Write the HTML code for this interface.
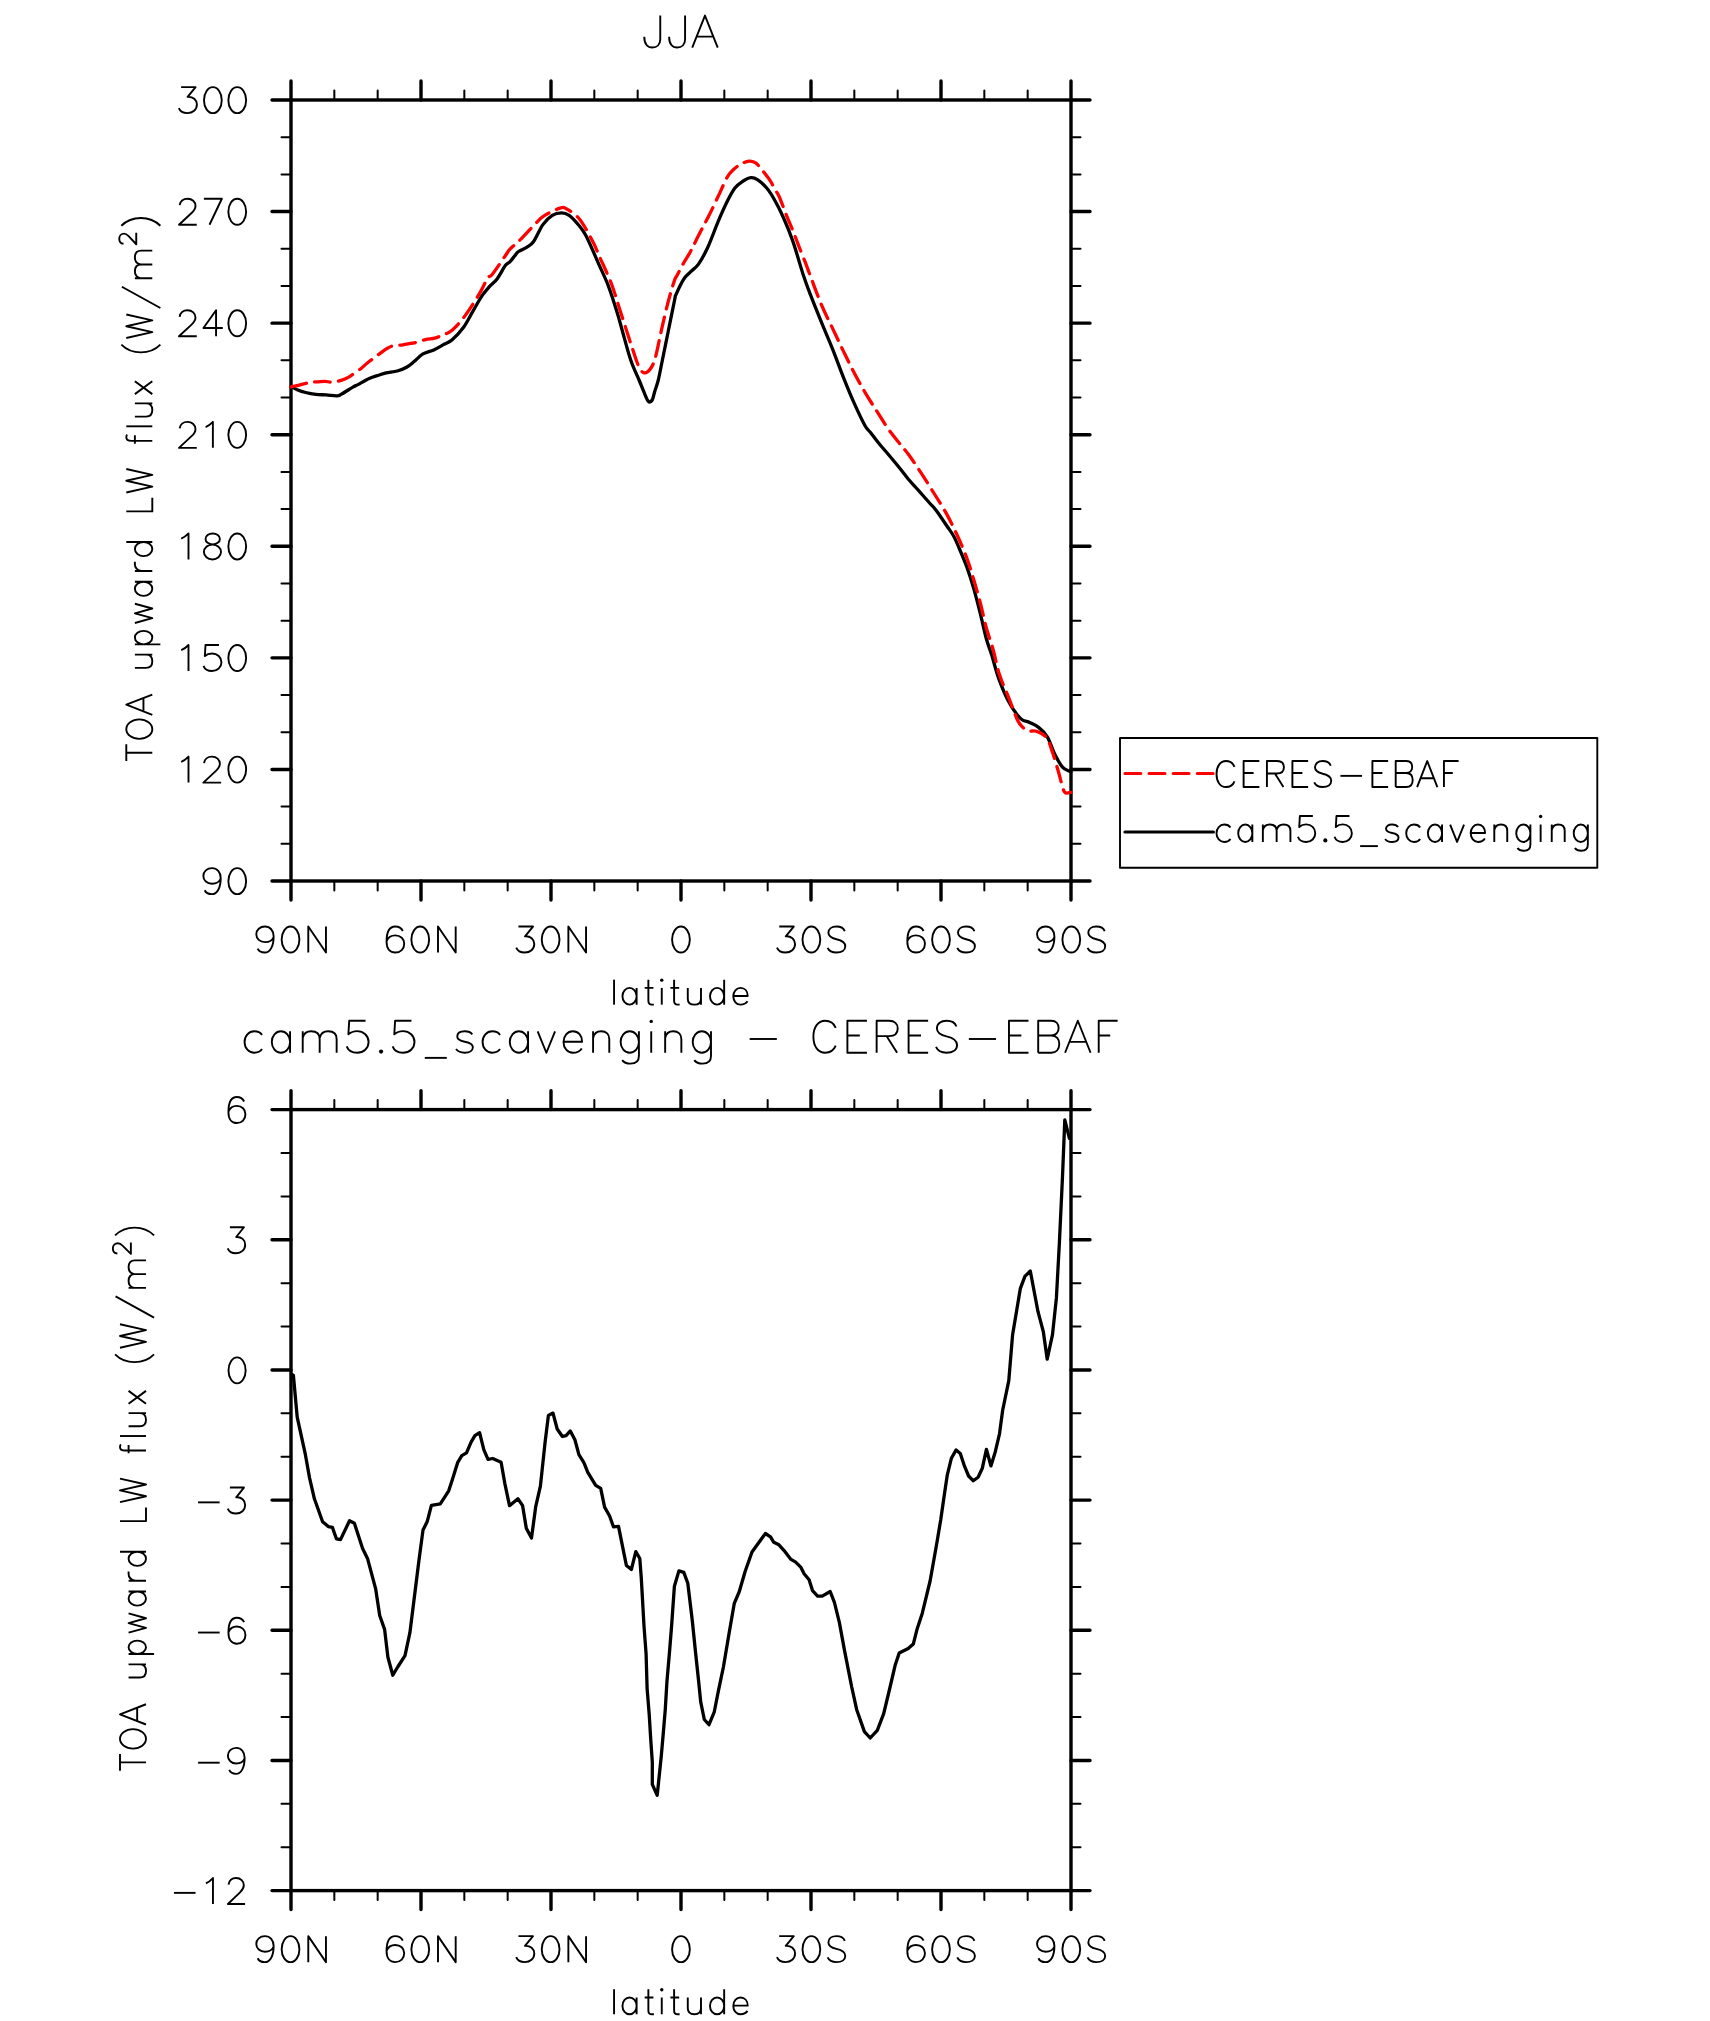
<!DOCTYPE html><html><head><meta charset="utf-8"><style>html,body{margin:0;padding:0;background:#fff;}svg{display:block;}</style></head><body>
<svg xmlns="http://www.w3.org/2000/svg" width="1710" height="2021" viewBox="0 0 1710 2021">
<rect width="1710" height="2021" fill="#fff"/>
<rect x="291.0" y="100" width="780.0" height="781" fill="none" stroke="#000" stroke-width="3.4"/>
<path d="M291,100V81M291,881V900M421,100V81M421,881V900M551,100V81M551,881V900M681,100V81M681,881V900M811,100V81M811,881V900M941,100V81M941,881V900M1071,100V81M1071,881V900M291.0,100H272.0M1071.0,100H1090.0M291.0,211.57H272.0M1071.0,211.57H1090.0M291.0,323.14H272.0M1071.0,323.14H1090.0M291.0,434.71H272.0M1071.0,434.71H1090.0M291.0,546.29H272.0M1071.0,546.29H1090.0M291.0,657.86H272.0M1071.0,657.86H1090.0M291.0,769.43H272.0M1071.0,769.43H1090.0M291.0,881H272.0M1071.0,881H1090.0" stroke="#000" stroke-width="3.4" stroke-linecap="round" fill="none"/>
<path d="M334.33,100V90.5M334.33,881V890.5M377.67,100V90.5M377.67,881V890.5M464.33,100V90.5M464.33,881V890.5M507.67,100V90.5M507.67,881V890.5M594.33,100V90.5M594.33,881V890.5M637.67,100V90.5M637.67,881V890.5M724.33,100V90.5M724.33,881V890.5M767.67,100V90.5M767.67,881V890.5M854.33,100V90.5M854.33,881V890.5M897.67,100V90.5M897.67,881V890.5M984.33,100V90.5M984.33,881V890.5M1027.67,100V90.5M1027.67,881V890.5M291.0,137.19H281.5M1071.0,137.19H1080.5M291.0,174.38H281.5M1071.0,174.38H1080.5M291.0,248.76H281.5M1071.0,248.76H1080.5M291.0,285.95H281.5M1071.0,285.95H1080.5M291.0,360.33H281.5M1071.0,360.33H1080.5M291.0,397.52H281.5M1071.0,397.52H1080.5M291.0,471.9H281.5M1071.0,471.9H1080.5M291.0,509.1H281.5M1071.0,509.1H1080.5M291.0,583.48H281.5M1071.0,583.48H1080.5M291.0,620.67H281.5M1071.0,620.67H1080.5M291.0,695.05H281.5M1071.0,695.05H1080.5M291.0,732.24H281.5M1071.0,732.24H1080.5M291.0,806.62H281.5M1071.0,806.62H1080.5M291.0,843.81H281.5M1071.0,843.81H1080.5" stroke="#000" stroke-width="2" stroke-linecap="round" fill="none"/>
<rect x="291.0" y="1109.6" width="780.0" height="781" fill="none" stroke="#000" stroke-width="3.4"/>
<path d="M291,1109.6V1090.6M291,1890.6V1909.6M421,1109.6V1090.6M421,1890.6V1909.6M551,1109.6V1090.6M551,1890.6V1909.6M681,1109.6V1090.6M681,1890.6V1909.6M811,1109.6V1090.6M811,1890.6V1909.6M941,1109.6V1090.6M941,1890.6V1909.6M1071,1109.6V1090.6M1071,1890.6V1909.6M291.0,1109.6H272.0M1071.0,1109.6H1090.0M291.0,1239.77H272.0M1071.0,1239.77H1090.0M291.0,1369.93H272.0M1071.0,1369.93H1090.0M291.0,1500.1H272.0M1071.0,1500.1H1090.0M291.0,1630.27H272.0M1071.0,1630.27H1090.0M291.0,1760.43H272.0M1071.0,1760.43H1090.0M291.0,1890.6H272.0M1071.0,1890.6H1090.0" stroke="#000" stroke-width="3.4" stroke-linecap="round" fill="none"/>
<path d="M334.33,1109.6V1100.1M334.33,1890.6V1900.1M377.67,1109.6V1100.1M377.67,1890.6V1900.1M464.33,1109.6V1100.1M464.33,1890.6V1900.1M507.67,1109.6V1100.1M507.67,1890.6V1900.1M594.33,1109.6V1100.1M594.33,1890.6V1900.1M637.67,1109.6V1100.1M637.67,1890.6V1900.1M724.33,1109.6V1100.1M724.33,1890.6V1900.1M767.67,1109.6V1100.1M767.67,1890.6V1900.1M854.33,1109.6V1100.1M854.33,1890.6V1900.1M897.67,1109.6V1100.1M897.67,1890.6V1900.1M984.33,1109.6V1100.1M984.33,1890.6V1900.1M1027.67,1109.6V1100.1M1027.67,1890.6V1900.1M291.0,1152.99H281.5M1071.0,1152.99H1080.5M291.0,1196.38H281.5M1071.0,1196.38H1080.5M291.0,1283.16H281.5M1071.0,1283.16H1080.5M291.0,1326.54H281.5M1071.0,1326.54H1080.5M291.0,1413.32H281.5M1071.0,1413.32H1080.5M291.0,1456.71H281.5M1071.0,1456.71H1080.5M291.0,1543.49H281.5M1071.0,1543.49H1080.5M291.0,1586.88H281.5M1071.0,1586.88H1080.5M291.0,1673.66H281.5M1071.0,1673.66H1080.5M291.0,1717.04H281.5M1071.0,1717.04H1080.5M291.0,1803.82H281.5M1071.0,1803.82H1080.5M291.0,1847.21H281.5M1071.0,1847.21H1080.5" stroke="#000" stroke-width="2" stroke-linecap="round" fill="none"/>
<path d="M291,386.5 C291.17,386.57 290.97,386.37 292,386.9 C293.03,387.43 294.93,388.77 297.2,389.7 C299.47,390.63 302.48,391.72 305.6,392.5 C308.72,393.28 312.47,394 315.9,394.4 C319.33,394.8 322.77,394.67 326.2,394.9 C329.63,395.13 334.02,395.88 336.5,395.8 C338.98,395.72 338.3,395.88 341.1,394.4 C343.9,392.92 350.48,388.53 353.3,386.9 C356.12,385.27 355.35,386 358,384.6 C360.65,383.2 365.77,380.07 369.2,378.5 C372.63,376.93 375.78,376.13 378.6,375.2 C381.42,374.27 382.98,373.6 386.1,372.9 C389.22,372.2 393.88,371.93 397.3,371 C400.72,370.07 403.8,368.87 406.6,367.3 C409.4,365.73 411.45,363.78 414.1,361.6 C416.75,359.42 419.22,356.15 422.5,354.2 C425.78,352.25 430.2,351.55 433.8,349.9 C437.4,348.25 441.03,346 444.1,344.3 C447.17,342.6 448.98,342.5 452.2,339.7 C455.42,336.9 459.98,332.18 463.4,327.5 C466.82,322.82 469.58,316.9 472.7,311.6 C475.82,306.3 479.28,299.9 482.1,295.7 C484.92,291.5 487.1,289.2 489.6,286.4 C492.1,283.6 494.45,282.42 497.1,278.9 C499.75,275.38 503.37,268.15 505.5,265.3 C507.63,262.45 508.35,263.38 509.9,261.8 C511.45,260.22 513.37,257.52 514.8,255.8 C516.23,254.08 516.47,252.95 518.5,251.5 C520.53,250.05 524.48,248.77 527,247.1 C529.52,245.43 530.95,245.25 533.6,241.5 C536.25,237.75 539.78,228.97 542.9,224.6 C546.02,220.23 549.18,217.25 552.3,215.3 C555.42,213.35 558.8,212.9 561.6,212.9 C564.4,212.9 566.45,213.5 569.1,215.3 C571.75,217.1 574.68,220.28 577.5,223.7 C580.32,227.12 582.4,228.93 586,235.8 C589.6,242.67 595.32,256.4 599.1,264.9 C602.88,273.4 605.67,278.78 608.7,286.8 C611.73,294.82 615.07,305.8 617.3,313 C619.53,320.2 619.87,322.17 622.1,330 C624.33,337.83 627.88,351.67 630.7,360 C633.53,368.33 636.9,374.8 639.05,380 C641.2,385.2 642.06,387.65 643.6,391.2 C645.14,394.75 646.87,399.83 648.3,401.3 C649.73,402.77 651.12,401.68 652.2,400 C653.28,398.32 653.78,394.53 654.8,391.2 C655.82,387.87 657.03,385.2 658.3,380 C659.57,374.8 660.7,368.33 662.4,360 C664.1,351.67 666.47,340 668.5,330 C670.53,320 673.33,305.95 674.6,300 C675.87,294.05 674.6,297.75 676.1,294.3 C677.6,290.85 681.28,282.97 683.6,279.3 C685.92,275.63 687.52,274.83 690,272.3 C692.48,269.77 695.53,268.27 698.5,264.1 C701.47,259.93 704.53,254.37 707.8,247.3 C711.07,240.23 714.83,229.4 718.1,221.7 C721.37,214 724.6,206.72 727.4,201.1 C730.2,195.48 732.4,191.27 734.9,188 C737.4,184.73 739.75,183.22 742.4,181.5 C745.05,179.78 748.3,178.02 750.8,177.7 C753.3,177.38 754.75,177.88 757.4,179.6 C760.05,181.32 763.9,184.72 766.7,188 C769.5,191.28 771.38,194.3 774.2,199.3 C777.02,204.3 780.48,210.98 783.6,218 C786.72,225.02 789.63,231.95 792.9,241.4 C796.17,250.85 800.2,265.62 803.2,274.7 C806.2,283.78 807.8,287.83 810.9,295.9 C814,303.97 818.17,314.2 821.8,323.1 C825.43,332 829.08,340.22 832.7,349.3 C836.32,358.38 839.88,368.53 843.5,377.6 C847.12,386.67 850.83,395.72 854.4,403.7 C857.97,411.68 862.22,420.7 864.9,425.5 C867.58,430.3 868.28,429.67 870.5,432.5 C872.72,435.33 875.15,438.75 878.2,442.5 C881.25,446.25 885.3,450.83 888.8,455 C892.3,459.17 895.82,463.33 899.2,467.5 C902.58,471.67 906.25,476.58 909.1,480 C911.95,483.42 913.92,485.33 916.3,488 C918.68,490.67 921.12,493.42 923.4,496 C925.68,498.58 927.8,501 930,503.5 C932.2,506 933.78,507.25 936.6,511 C939.42,514.75 944.07,521.83 946.9,526 C949.73,530.17 951.5,532.17 953.6,536 C955.7,539.83 957.3,543.85 959.5,549 C961.7,554.15 964.4,560.22 966.8,566.9 C969.2,573.58 971.67,581.38 973.9,589.1 C976.13,596.82 978.12,604.88 980.2,613.2 C982.28,621.52 984.47,632 986.4,639 C988.33,646 989.78,648.72 991.8,655.2 C993.82,661.68 995.7,670.18 998.5,677.9 C1001.3,685.62 1004.95,694.77 1008.6,701.5 C1012.25,708.23 1016.88,714.8 1020.4,718.3 C1023.92,721.8 1026.62,720.95 1029.7,722.5 C1032.78,724.05 1035.97,725.22 1038.9,727.6 C1041.83,729.98 1044.63,732.32 1047.3,736.8 C1049.97,741.28 1052.37,749.45 1054.9,754.5 C1057.43,759.55 1060.05,764.3 1062.5,767.1 C1064.95,769.9 1068.18,770.57 1069.6,771.3 C1071.02,772.03 1070.77,771.47 1071,771.5" fill="none" stroke="#000" stroke-width="3.3" stroke-linecap="round" stroke-linejoin="round"/>
<path d="M291,386.8 C291.4,386.73 291.75,386.77 293.4,386.4 C295.05,386.03 297.93,385.3 300.9,384.6 C303.87,383.9 308.4,382.67 311.2,382.2 C314,381.73 315.37,381.95 317.7,381.8 C320.03,381.65 322.85,381.23 325.2,381.3 C327.55,381.37 329.15,382.35 331.8,382.2 C334.45,382.05 338.3,381.25 341.1,380.4 C343.9,379.55 345.32,379.05 348.6,377.1 C351.88,375.15 357.68,371.05 360.8,368.7 C363.92,366.35 364.03,365.58 367.3,363 C370.57,360.42 377.12,355.62 380.4,353.2 C383.68,350.78 384.82,349.75 387,348.5 C389.18,347.25 390.85,346.32 393.5,345.7 C396.15,345.08 400.08,345.18 402.9,344.8 C405.72,344.42 408.53,343.72 410.4,343.4 C412.27,343.08 411.6,343.53 414.1,342.9 C416.6,342.27 421.97,340.38 425.4,339.6 C428.83,338.82 431.93,338.93 434.7,338.2 C437.47,337.47 439.55,336.2 442,335.2 C444.45,334.2 447.08,333.63 449.4,332.2 C451.72,330.77 453.25,329.4 455.9,326.6 C458.55,323.8 461.4,320.85 465.3,315.4 C469.2,309.95 475.57,300.13 479.3,293.9 C483.03,287.67 485.52,281.28 487.7,278 C489.88,274.72 489.43,277.95 492.4,274.2 C495.37,270.45 502.53,259.72 505.5,255.5 C508.47,251.28 507.55,251.72 510.2,248.9 C512.85,246.08 516.73,243.27 521.4,238.6 C526.07,233.93 534.3,224.78 538.2,220.9 C542.1,217.02 541.2,217.42 544.8,215.3 C548.4,213.18 556.22,209.3 559.8,208.2 C563.38,207.1 563.03,206.9 566.3,208.7 C569.57,210.5 575.03,213.62 579.4,219 C583.77,224.38 589.18,234.8 592.5,241 C595.82,247.2 596.13,249.03 599.3,256.2 C602.47,263.37 607.9,274.53 611.5,284 C615.1,293.47 617.47,302.4 620.9,313 C624.33,323.6 629.13,338.72 632.1,347.6 C635.07,356.48 636.67,362.08 638.7,366.3 C640.73,370.52 642.28,372.58 644.3,372.9 C646.32,373.22 648.93,370.85 650.8,368.2 C652.67,365.55 653.78,363.08 655.5,357 C657.22,350.92 659.07,340.6 661.1,331.7 C663.13,322.8 665.52,312.02 667.7,303.6 C669.88,295.18 672.65,285.88 674.2,281.2 C675.75,276.52 675.75,277.92 677,275.5 C678.25,273.08 680.45,269.03 681.7,266.7 C682.95,264.37 683.3,263.55 684.5,261.5 C685.7,259.45 687.82,256.22 688.9,254.4 C689.98,252.58 689.1,254.33 691,250.6 C692.9,246.87 697.35,237.75 700.3,232 C703.25,226.25 705.73,222.02 708.7,216.1 C711.67,210.18 714.98,203.05 718.1,196.5 C721.22,189.95 724.78,181.33 727.4,176.8 C730.02,172.27 731.62,171.4 733.8,169.3 C735.98,167.2 738.18,165.53 740.5,164.2 C742.82,162.87 745.78,161.75 747.7,161.3 C749.62,160.85 750.63,161.22 752,161.5 C753.37,161.78 754.4,161.83 755.9,163 C757.4,164.17 759.28,166.47 761,168.5 C762.72,170.53 764.58,173.03 766.2,175.2 C767.82,177.37 769.32,179.28 770.7,181.5 C772.08,183.72 773.13,186.1 774.5,188.5 C775.87,190.9 777.67,193.42 778.9,195.9 C780.13,198.38 780.42,199.6 781.9,203.4 C783.38,207.2 786.32,215 787.8,218.7 C789.28,222.4 789.32,221.97 790.8,225.6 C792.28,229.23 795.22,236.7 796.7,240.5 C798.18,244.3 798.22,244.62 799.7,248.4 C801.18,252.18 803.73,258.37 805.6,263.2 C807.47,268.03 808.2,270.32 810.9,277.4 C813.6,284.48 818.17,297.17 821.8,305.7 C825.43,314.23 829.08,320.98 832.7,328.6 C836.32,336.22 839.88,343.97 843.5,351.4 C847.12,358.83 850.77,366.3 854.4,373.2 C858.03,380.1 861.67,386.63 865.3,392.8 C868.93,398.97 872.57,404.45 876.2,410.2 C879.83,415.95 883.47,422.07 887.1,427.3 C890.73,432.53 894.37,436.98 898,441.6 C901.63,446.22 905,449.7 908.9,455 C912.8,460.3 917.25,467.07 921.4,473.4 C925.55,479.73 929.65,486.33 933.8,493 C937.95,499.67 942.43,506.43 946.3,513.4 C950.17,520.37 953.58,527.37 957,534.8 C960.42,542.23 963.98,550.43 966.8,558 C969.62,565.57 971.67,572.78 973.9,580.2 C976.13,587.62 978.27,595.07 980.2,602.5 C982.13,609.93 984.03,619.13 985.5,624.8 C986.97,630.47 987.67,632.13 989,636.5 C990.33,640.87 991.77,644.65 993.5,651 C995.23,657.35 996.88,666.88 999.4,674.6 C1001.92,682.32 1005.65,689.87 1008.6,697.3 C1011.55,704.73 1014.85,714.3 1017.1,719.2 C1019.35,724.1 1020.15,724.75 1022.1,726.7 C1024.05,728.65 1026.42,730.13 1028.8,730.9 C1031.18,731.67 1033.45,730.18 1036.4,731.3 C1039.35,732.42 1043.83,734.15 1046.5,737.6 C1049.17,741.05 1050.43,746.38 1052.4,752 C1054.37,757.62 1056.33,764.72 1058.3,771.3 C1060.27,777.88 1062.32,788 1064.2,791.5 C1066.08,795 1068.47,792.15 1069.6,792.3 C1070.73,792.45 1070.77,792.38 1071,792.4" fill="none" stroke="#ff0000" stroke-width="3.3" stroke-linecap="round" stroke-linejoin="round" stroke-dasharray="15.8 8.3"/>
<path d="M291.4,1374 L293.4,1375.4 L297.2,1417.2 L305.4,1454.7 L309.5,1477.6 L314.4,1498.8 L322.6,1521.7 L328.3,1526.6 L332.4,1527.4 L336.4,1538.8 L340.5,1539.6 L349.5,1520.8 L354.4,1523.3 L362.6,1548.6 L367.5,1558.4 L375.6,1588.6 L379.7,1615.5 L384.6,1629.4 L387.9,1657.2 L392.8,1675.2 L397.7,1667 L405,1655.6 L409.9,1632.7 L418.9,1560.8 L423,1530.1 L427.2,1521.6 L431.4,1505.3 L440.3,1503.9 L448.7,1490.8 L452.4,1479.5 L457.6,1462.7 L461.8,1455.7 L466.5,1452.9 L471.1,1442.1 L474.9,1435.6 L479.6,1432.7 L483.8,1449.6 L488,1459.4 L492.7,1458.5 L501.1,1462.2 L504.8,1483.3 L509.5,1505.7 L517.9,1498.7 L522.6,1505.7 L526.3,1528.2 L531.5,1538 L535.7,1506.7 L540.4,1486.1 L545.1,1442.1 L548.4,1415.4 L553,1413.1 L557.2,1429 L562.4,1436.5 L566.1,1435.6 L570.3,1430.9 L574.9,1439.8 L578.9,1454.6 L583.9,1462.6 L587.8,1472.4 L595.7,1485.3 L600.7,1488.3 L604.6,1507.1 L609.6,1516 L613.5,1526.9 L618.5,1526.4 L624.4,1555.6 L626.4,1565.5 L631.4,1569.4 L635.8,1551.6 L639.8,1558.5 L641.3,1578.3 L644,1626 L646.1,1654 L647.1,1688.3 L649.2,1714.3 L650.8,1740.3 L652.3,1762.1 L652.3,1784.4 L657.2,1795.3 L661.2,1756.9 L663.3,1733 L665.3,1709.1 L666.9,1682.1 L669.5,1652 L671.6,1626 L674.4,1586.2 L678.9,1570.9 L683.8,1572.4 L687.8,1583.3 L692.3,1620.8 L695.5,1652 L698.6,1681 L700.7,1701.8 L704.3,1719.5 L709,1724.7 L714.2,1712.2 L718.3,1691.4 L723.5,1666.5 L729.3,1631.9 L734.3,1603.3 L739.3,1591.5 L745.2,1571.3 L752,1552 L765.4,1533.5 L770.5,1536.8 L773.8,1542.3 L778.9,1544.8 L783.9,1550.3 L790.6,1559.1 L795.7,1562.1 L800.7,1567.1 L804.1,1573.8 L809.1,1579.7 L812.5,1590.6 L817.6,1596.1 L822.2,1596.1 L830.2,1591.5 L834.4,1602.4 L839.4,1622.6 L844.5,1650.4 L851.6,1686.5 L856.7,1709.7 L864.4,1731.6 L870.2,1738 L877.3,1730.3 L883.7,1713.6 L890.2,1686.5 L895.3,1664.7 L899.2,1653.1 L908.2,1648.6 L913.3,1644.1 L917.2,1628.7 L922.3,1613.2 L930.1,1581 L936.5,1545 L940.7,1520 L944.3,1495 L947.2,1475.4 L951.4,1458.2 L956.1,1449.9 L960.3,1453.4 L964.4,1465.9 L968.6,1476 L973.3,1480.8 L978.1,1477.2 L982.3,1468.3 L986.4,1449.3 L990.9,1465.9 L995.3,1451.7 L999.5,1433.8 L1002.7,1410 L1008.8,1380.7 L1012.6,1334.7 L1020.3,1288.7 L1024.9,1276.4 L1030.3,1271 L1038,1311.7 L1043.3,1331.6 L1047.2,1359.2 L1052.5,1334.7 L1056.4,1297.9 L1059.4,1242.7 L1062.5,1176.7 L1064.8,1119.9 L1069.4,1138.3" fill="none" stroke="#000" stroke-width="3.3" stroke-linecap="round" stroke-linejoin="round"/>
<g transform="translate(249.3,112.95)" fill="none" stroke="#000" stroke-width="1.9" stroke-linecap="butt" stroke-linejoin="round"><path transform="matrix(0.28,0,0,0.26,-73.13,-25.8)" d="M17.5,0 L69.4,0 L40.8,37.5 C60,36 74,49 74,67 C74,87 59,100 40,100 C26,100 14,93 9.4,81" vector-effect="non-scaling-stroke"/><path transform="matrix(0.28,0,0,0.26,-48.75,-25.8)" d="M44,0 A31.75,50 0 1,1 44,100 A31.75,50 0 1,1 44,0" vector-effect="non-scaling-stroke"/><path transform="matrix(0.28,0,0,0.26,-24.38,-25.8)" d="M44,0 A31.75,50 0 1,1 44,100 A31.75,50 0 1,1 44,0" vector-effect="non-scaling-stroke"/></g>
<g transform="translate(249.3,224.52)" fill="none" stroke="#000" stroke-width="1.9" stroke-linecap="butt" stroke-linejoin="round"><path transform="matrix(0.28,0,0,0.26,-73.13,-25.8)" d="M12.5,25 C14,10 25,0 40.5,0 C57,0 69,12 69,28 C69,40 63,47 55,55 L10,100 L73.5,100" vector-effect="non-scaling-stroke"/><path transform="matrix(0.28,0,0,0.26,-48.75,-25.8)" d="M12,0 L76,0 L32,100" vector-effect="non-scaling-stroke"/><path transform="matrix(0.28,0,0,0.26,-24.38,-25.8)" d="M44,0 A31.75,50 0 1,1 44,100 A31.75,50 0 1,1 44,0" vector-effect="non-scaling-stroke"/></g>
<g transform="translate(249.3,336.09)" fill="none" stroke="#000" stroke-width="1.9" stroke-linecap="butt" stroke-linejoin="round"><path transform="matrix(0.28,0,0,0.26,-73.13,-25.8)" d="M12.5,25 C14,10 25,0 40.5,0 C57,0 69,12 69,28 C69,40 63,47 55,55 L10,100 L73.5,100" vector-effect="non-scaling-stroke"/><path transform="matrix(0.28,0,0,0.26,-48.75,-25.8)" d="M55.4,100 L55.4,0 L10.4,68 L79.5,68" vector-effect="non-scaling-stroke"/><path transform="matrix(0.28,0,0,0.26,-24.38,-25.8)" d="M44,0 A31.75,50 0 1,1 44,100 A31.75,50 0 1,1 44,0" vector-effect="non-scaling-stroke"/></g>
<g transform="translate(249.3,447.66)" fill="none" stroke="#000" stroke-width="1.9" stroke-linecap="butt" stroke-linejoin="round"><path transform="matrix(0.28,0,0,0.26,-73.13,-25.8)" d="M12.5,25 C14,10 25,0 40.5,0 C57,0 69,12 69,28 C69,40 63,47 55,55 L10,100 L73.5,100" vector-effect="non-scaling-stroke"/><path transform="matrix(0.28,0,0,0.26,-48.75,-25.8)" d="M18,20 C26,17 36,9 44,0 L44,100" vector-effect="non-scaling-stroke"/><path transform="matrix(0.28,0,0,0.26,-24.38,-25.8)" d="M44,0 A31.75,50 0 1,1 44,100 A31.75,50 0 1,1 44,0" vector-effect="non-scaling-stroke"/></g>
<g transform="translate(249.3,559.24)" fill="none" stroke="#000" stroke-width="1.9" stroke-linecap="butt" stroke-linejoin="round"><path transform="matrix(0.28,0,0,0.26,-73.13,-25.8)" d="M18,20 C26,17 36,9 44,0 L44,100" vector-effect="non-scaling-stroke"/><path transform="matrix(0.28,0,0,0.26,-48.75,-25.8)" d="M43.4,0 A25.7,21 0 1,1 43.4,42 A25.7,21 0 1,1 43.4,0 M42.5,43.0 A30.5,28.5 0 1,1 42.5,100.0 A30.5,28.5 0 1,1 42.5,43.0" vector-effect="non-scaling-stroke"/><path transform="matrix(0.28,0,0,0.26,-24.38,-25.8)" d="M44,0 A31.75,50 0 1,1 44,100 A31.75,50 0 1,1 44,0" vector-effect="non-scaling-stroke"/></g>
<g transform="translate(249.3,670.81)" fill="none" stroke="#000" stroke-width="1.9" stroke-linecap="butt" stroke-linejoin="round"><path transform="matrix(0.28,0,0,0.26,-73.13,-25.8)" d="M18,20 C26,17 36,9 44,0 L44,100" vector-effect="non-scaling-stroke"/><path transform="matrix(0.28,0,0,0.26,-48.75,-25.8)" d="M65.8,0 L17.7,0 L15.3,42.7 C22,36 30,32.5 41,32.5 C60,32.5 74.7,47 74.7,66.5 C74.7,86 60,100 41,100 C26,100 15,93 10.4,80" vector-effect="non-scaling-stroke"/><path transform="matrix(0.28,0,0,0.26,-24.38,-25.8)" d="M44,0 A31.75,50 0 1,1 44,100 A31.75,50 0 1,1 44,0" vector-effect="non-scaling-stroke"/></g>
<g transform="translate(249.3,782.38)" fill="none" stroke="#000" stroke-width="1.9" stroke-linecap="butt" stroke-linejoin="round"><path transform="matrix(0.28,0,0,0.26,-73.13,-25.8)" d="M18,20 C26,17 36,9 44,0 L44,100" vector-effect="non-scaling-stroke"/><path transform="matrix(0.28,0,0,0.26,-48.75,-25.8)" d="M12.5,25 C14,10 25,0 40.5,0 C57,0 69,12 69,28 C69,40 63,47 55,55 L10,100 L73.5,100" vector-effect="non-scaling-stroke"/><path transform="matrix(0.28,0,0,0.26,-24.38,-25.8)" d="M44,0 A31.75,50 0 1,1 44,100 A31.75,50 0 1,1 44,0" vector-effect="non-scaling-stroke"/></g>
<g transform="translate(249.3,893.95)" fill="none" stroke="#000" stroke-width="1.9" stroke-linecap="butt" stroke-linejoin="round"><path transform="matrix(0.28,0,0,0.26,-48.75,-25.8)" d="M72,40 C68,52 56,60 41,60 C23,60 10,47 10,30 C10,13 23,0 41,0 C59,0 72,15 72,38 C72,75 60,100 40,100 C28,100 19,95 15,85" vector-effect="non-scaling-stroke"/><path transform="matrix(0.28,0,0,0.26,-24.38,-25.8)" d="M44,0 A31.75,50 0 1,1 44,100 A31.75,50 0 1,1 44,0" vector-effect="non-scaling-stroke"/></g>
<g transform="translate(249.3,1122.55)" fill="none" stroke="#000" stroke-width="1.9" stroke-linecap="butt" stroke-linejoin="round"><path transform="matrix(0.27,0,0,0.26,-24.11,-25.5)" d="M70,17 C65,6 55,0 43,0 C23,0 12,22 12,58 C12,86 25,100 43,100 C62,100 75,86 75,66 C75,47 62,34 43,34 C28,34 17,43 12,56" vector-effect="non-scaling-stroke"/></g>
<g transform="translate(249.3,1252.72)" fill="none" stroke="#000" stroke-width="1.9" stroke-linecap="butt" stroke-linejoin="round"><path transform="matrix(0.27,0,0,0.26,-24.11,-25.5)" d="M17.5,0 L69.4,0 L40.8,37.5 C60,36 74,49 74,67 C74,87 59,100 40,100 C26,100 14,93 9.4,81" vector-effect="non-scaling-stroke"/></g>
<g transform="translate(249.3,1382.88)" fill="none" stroke="#000" stroke-width="1.9" stroke-linecap="butt" stroke-linejoin="round"><path transform="matrix(0.27,0,0,0.26,-24.11,-25.5)" d="M44,0 A31.75,50 0 1,1 44,100 A31.75,50 0 1,1 44,0" vector-effect="non-scaling-stroke"/></g>
<g transform="translate(249.3,1513.05)" fill="none" stroke="#000" stroke-width="1.9" stroke-linecap="butt" stroke-linejoin="round"><path transform="matrix(0.27,0,0,0.26,-51.24,-25.5)" d="M0,57 L80,57" vector-effect="non-scaling-stroke"/><path transform="matrix(0.27,0,0,0.26,-24.11,-25.5)" d="M17.5,0 L69.4,0 L40.8,37.5 C60,36 74,49 74,67 C74,87 59,100 40,100 C26,100 14,93 9.4,81" vector-effect="non-scaling-stroke"/></g>
<g transform="translate(249.3,1643.22)" fill="none" stroke="#000" stroke-width="1.9" stroke-linecap="butt" stroke-linejoin="round"><path transform="matrix(0.27,0,0,0.26,-51.24,-25.5)" d="M0,57 L80,57" vector-effect="non-scaling-stroke"/><path transform="matrix(0.27,0,0,0.26,-24.11,-25.5)" d="M70,17 C65,6 55,0 43,0 C23,0 12,22 12,58 C12,86 25,100 43,100 C62,100 75,86 75,66 C75,47 62,34 43,34 C28,34 17,43 12,56" vector-effect="non-scaling-stroke"/></g>
<g transform="translate(249.3,1773.38)" fill="none" stroke="#000" stroke-width="1.9" stroke-linecap="butt" stroke-linejoin="round"><path transform="matrix(0.27,0,0,0.26,-51.24,-25.5)" d="M0,57 L80,57" vector-effect="non-scaling-stroke"/><path transform="matrix(0.27,0,0,0.26,-24.11,-25.5)" d="M72,40 C68,52 56,60 41,60 C23,60 10,47 10,30 C10,13 23,0 41,0 C59,0 72,15 72,38 C72,75 60,100 40,100 C28,100 19,95 15,85" vector-effect="non-scaling-stroke"/></g>
<g transform="translate(249.3,1903.55)" fill="none" stroke="#000" stroke-width="1.9" stroke-linecap="butt" stroke-linejoin="round"><path transform="matrix(0.27,0,0,0.26,-75.35,-25.5)" d="M0,57 L80,57" vector-effect="non-scaling-stroke"/><path transform="matrix(0.27,0,0,0.26,-48.22,-25.5)" d="M18,20 C26,17 36,9 44,0 L44,100" vector-effect="non-scaling-stroke"/><path transform="matrix(0.27,0,0,0.26,-24.11,-25.5)" d="M12.5,25 C14,10 25,0 40.5,0 C57,0 69,12 69,28 C69,40 63,47 55,55 L10,100 L73.5,100" vector-effect="non-scaling-stroke"/></g>
<g transform="translate(291,952.75)" fill="none" stroke="#000" stroke-width="1.9" stroke-linecap="butt" stroke-linejoin="round"><path transform="matrix(0.28,0,0,0.26,-37.51,-26.2)" d="M72,40 C68,52 56,60 41,60 C23,60 10,47 10,30 C10,13 23,0 41,0 C59,0 72,15 72,38 C72,75 60,100 40,100 C28,100 19,95 15,85" vector-effect="non-scaling-stroke"/><path transform="matrix(0.28,0,0,0.26,-12.79,-26.2)" d="M44,0 A31.75,50 0 1,1 44,100 A31.75,50 0 1,1 44,0" vector-effect="non-scaling-stroke"/><path transform="matrix(0.26,0,0,0.26,17.28,-26.2)" d="M0,100 L0,0 L68,100 L68,0" vector-effect="non-scaling-stroke"/></g>
<g transform="translate(291,1962.35)" fill="none" stroke="#000" stroke-width="1.9" stroke-linecap="butt" stroke-linejoin="round"><path transform="matrix(0.28,0,0,0.26,-37.51,-26.2)" d="M72,40 C68,52 56,60 41,60 C23,60 10,47 10,30 C10,13 23,0 41,0 C59,0 72,15 72,38 C72,75 60,100 40,100 C28,100 19,95 15,85" vector-effect="non-scaling-stroke"/><path transform="matrix(0.28,0,0,0.26,-12.79,-26.2)" d="M44,0 A31.75,50 0 1,1 44,100 A31.75,50 0 1,1 44,0" vector-effect="non-scaling-stroke"/><path transform="matrix(0.26,0,0,0.26,17.28,-26.2)" d="M0,100 L0,0 L68,100 L68,0" vector-effect="non-scaling-stroke"/></g>
<g transform="translate(421,952.75)" fill="none" stroke="#000" stroke-width="1.9" stroke-linecap="butt" stroke-linejoin="round"><path transform="matrix(0.28,0,0,0.26,-37.79,-26.2)" d="M70,17 C65,6 55,0 43,0 C23,0 12,22 12,58 C12,86 25,100 43,100 C62,100 75,86 75,66 C75,47 62,34 43,34 C28,34 17,43 12,56" vector-effect="non-scaling-stroke"/><path transform="matrix(0.28,0,0,0.26,-13.07,-26.2)" d="M44,0 A31.75,50 0 1,1 44,100 A31.75,50 0 1,1 44,0" vector-effect="non-scaling-stroke"/><path transform="matrix(0.26,0,0,0.26,17,-26.2)" d="M0,100 L0,0 L68,100 L68,0" vector-effect="non-scaling-stroke"/></g>
<g transform="translate(421,1962.35)" fill="none" stroke="#000" stroke-width="1.9" stroke-linecap="butt" stroke-linejoin="round"><path transform="matrix(0.28,0,0,0.26,-37.79,-26.2)" d="M70,17 C65,6 55,0 43,0 C23,0 12,22 12,58 C12,86 25,100 43,100 C62,100 75,86 75,66 C75,47 62,34 43,34 C28,34 17,43 12,56" vector-effect="non-scaling-stroke"/><path transform="matrix(0.28,0,0,0.26,-13.07,-26.2)" d="M44,0 A31.75,50 0 1,1 44,100 A31.75,50 0 1,1 44,0" vector-effect="non-scaling-stroke"/><path transform="matrix(0.26,0,0,0.26,17,-26.2)" d="M0,100 L0,0 L68,100 L68,0" vector-effect="non-scaling-stroke"/></g>
<g transform="translate(551,952.75)" fill="none" stroke="#000" stroke-width="1.9" stroke-linecap="butt" stroke-linejoin="round"><path transform="matrix(0.28,0,0,0.26,-37.43,-26.2)" d="M17.5,0 L69.4,0 L40.8,37.5 C60,36 74,49 74,67 C74,87 59,100 40,100 C26,100 14,93 9.4,81" vector-effect="non-scaling-stroke"/><path transform="matrix(0.28,0,0,0.26,-12.7,-26.2)" d="M44,0 A31.75,50 0 1,1 44,100 A31.75,50 0 1,1 44,0" vector-effect="non-scaling-stroke"/><path transform="matrix(0.26,0,0,0.26,17.37,-26.2)" d="M0,100 L0,0 L68,100 L68,0" vector-effect="non-scaling-stroke"/></g>
<g transform="translate(551,1962.35)" fill="none" stroke="#000" stroke-width="1.9" stroke-linecap="butt" stroke-linejoin="round"><path transform="matrix(0.28,0,0,0.26,-37.43,-26.2)" d="M17.5,0 L69.4,0 L40.8,37.5 C60,36 74,49 74,67 C74,87 59,100 40,100 C26,100 14,93 9.4,81" vector-effect="non-scaling-stroke"/><path transform="matrix(0.28,0,0,0.26,-12.7,-26.2)" d="M44,0 A31.75,50 0 1,1 44,100 A31.75,50 0 1,1 44,0" vector-effect="non-scaling-stroke"/><path transform="matrix(0.26,0,0,0.26,17.37,-26.2)" d="M0,100 L0,0 L68,100 L68,0" vector-effect="non-scaling-stroke"/></g>
<g transform="translate(681,952.75)" fill="none" stroke="#000" stroke-width="1.9" stroke-linecap="butt" stroke-linejoin="round"><path transform="matrix(0.28,0,0,0.26,-12.36,-26.2)" d="M44,0 A31.75,50 0 1,1 44,100 A31.75,50 0 1,1 44,0" vector-effect="non-scaling-stroke"/></g>
<g transform="translate(681,1962.35)" fill="none" stroke="#000" stroke-width="1.9" stroke-linecap="butt" stroke-linejoin="round"><path transform="matrix(0.28,0,0,0.26,-12.36,-26.2)" d="M44,0 A31.75,50 0 1,1 44,100 A31.75,50 0 1,1 44,0" vector-effect="non-scaling-stroke"/></g>
<g transform="translate(811,952.75)" fill="none" stroke="#000" stroke-width="1.9" stroke-linecap="butt" stroke-linejoin="round"><path transform="matrix(0.28,0,0,0.26,-36.67,-26.2)" d="M17.5,0 L69.4,0 L40.8,37.5 C60,36 74,49 74,67 C74,87 59,100 40,100 C26,100 14,93 9.4,81" vector-effect="non-scaling-stroke"/><path transform="matrix(0.28,0,0,0.26,-11.94,-26.2)" d="M44,0 A31.75,50 0 1,1 44,100 A31.75,50 0 1,1 44,0" vector-effect="non-scaling-stroke"/><path transform="matrix(0.26,0,0,0.26,16.61,-26.2)" d="M66,18 C62,7 50,0 34,0 C16,0 3,9 3,24 C3,38 14,44 34,49 C56,54 68,62 68,76 C68,91 54,100 34,100 C17,100 5,93 0,82" vector-effect="non-scaling-stroke"/></g>
<g transform="translate(811,1962.35)" fill="none" stroke="#000" stroke-width="1.9" stroke-linecap="butt" stroke-linejoin="round"><path transform="matrix(0.28,0,0,0.26,-36.67,-26.2)" d="M17.5,0 L69.4,0 L40.8,37.5 C60,36 74,49 74,67 C74,87 59,100 40,100 C26,100 14,93 9.4,81" vector-effect="non-scaling-stroke"/><path transform="matrix(0.28,0,0,0.26,-11.94,-26.2)" d="M44,0 A31.75,50 0 1,1 44,100 A31.75,50 0 1,1 44,0" vector-effect="non-scaling-stroke"/><path transform="matrix(0.26,0,0,0.26,16.61,-26.2)" d="M66,18 C62,7 50,0 34,0 C16,0 3,9 3,24 C3,38 14,44 34,49 C56,54 68,62 68,76 C68,91 54,100 34,100 C17,100 5,93 0,82" vector-effect="non-scaling-stroke"/></g>
<g transform="translate(941,952.75)" fill="none" stroke="#000" stroke-width="1.9" stroke-linecap="butt" stroke-linejoin="round"><path transform="matrix(0.28,0,0,0.26,-37.04,-26.2)" d="M70,17 C65,6 55,0 43,0 C23,0 12,22 12,58 C12,86 25,100 43,100 C62,100 75,86 75,66 C75,47 62,34 43,34 C28,34 17,43 12,56" vector-effect="non-scaling-stroke"/><path transform="matrix(0.28,0,0,0.26,-12.31,-26.2)" d="M44,0 A31.75,50 0 1,1 44,100 A31.75,50 0 1,1 44,0" vector-effect="non-scaling-stroke"/><path transform="matrix(0.26,0,0,0.26,16.24,-26.2)" d="M66,18 C62,7 50,0 34,0 C16,0 3,9 3,24 C3,38 14,44 34,49 C56,54 68,62 68,76 C68,91 54,100 34,100 C17,100 5,93 0,82" vector-effect="non-scaling-stroke"/></g>
<g transform="translate(941,1962.35)" fill="none" stroke="#000" stroke-width="1.9" stroke-linecap="butt" stroke-linejoin="round"><path transform="matrix(0.28,0,0,0.26,-37.04,-26.2)" d="M70,17 C65,6 55,0 43,0 C23,0 12,22 12,58 C12,86 25,100 43,100 C62,100 75,86 75,66 C75,47 62,34 43,34 C28,34 17,43 12,56" vector-effect="non-scaling-stroke"/><path transform="matrix(0.28,0,0,0.26,-12.31,-26.2)" d="M44,0 A31.75,50 0 1,1 44,100 A31.75,50 0 1,1 44,0" vector-effect="non-scaling-stroke"/><path transform="matrix(0.26,0,0,0.26,16.24,-26.2)" d="M66,18 C62,7 50,0 34,0 C16,0 3,9 3,24 C3,38 14,44 34,49 C56,54 68,62 68,76 C68,91 54,100 34,100 C17,100 5,93 0,82" vector-effect="non-scaling-stroke"/></g>
<g transform="translate(1071,952.75)" fill="none" stroke="#000" stroke-width="1.9" stroke-linecap="butt" stroke-linejoin="round"><path transform="matrix(0.28,0,0,0.26,-36.75,-26.2)" d="M72,40 C68,52 56,60 41,60 C23,60 10,47 10,30 C10,13 23,0 41,0 C59,0 72,15 72,38 C72,75 60,100 40,100 C28,100 19,95 15,85" vector-effect="non-scaling-stroke"/><path transform="matrix(0.28,0,0,0.26,-12.03,-26.2)" d="M44,0 A31.75,50 0 1,1 44,100 A31.75,50 0 1,1 44,0" vector-effect="non-scaling-stroke"/><path transform="matrix(0.26,0,0,0.26,16.52,-26.2)" d="M66,18 C62,7 50,0 34,0 C16,0 3,9 3,24 C3,38 14,44 34,49 C56,54 68,62 68,76 C68,91 54,100 34,100 C17,100 5,93 0,82" vector-effect="non-scaling-stroke"/></g>
<g transform="translate(1071,1962.35)" fill="none" stroke="#000" stroke-width="1.9" stroke-linecap="butt" stroke-linejoin="round"><path transform="matrix(0.28,0,0,0.26,-36.75,-26.2)" d="M72,40 C68,52 56,60 41,60 C23,60 10,47 10,30 C10,13 23,0 41,0 C59,0 72,15 72,38 C72,75 60,100 40,100 C28,100 19,95 15,85" vector-effect="non-scaling-stroke"/><path transform="matrix(0.28,0,0,0.26,-12.03,-26.2)" d="M44,0 A31.75,50 0 1,1 44,100 A31.75,50 0 1,1 44,0" vector-effect="non-scaling-stroke"/><path transform="matrix(0.26,0,0,0.26,16.52,-26.2)" d="M66,18 C62,7 50,0 34,0 C16,0 3,9 3,24 C3,38 14,44 34,49 C56,54 68,62 68,76 C68,91 54,100 34,100 C17,100 5,93 0,82" vector-effect="non-scaling-stroke"/></g>
<g transform="translate(681,1004.85)" fill="none" stroke="#000" stroke-width="1.9" stroke-linecap="butt" stroke-linejoin="round"><path transform="matrix(0.27,0,0,0.25,-66.94,-25.2)" d="M0,0 L0,100" vector-effect="non-scaling-stroke"/><path transform="matrix(0.24,0,0,0.25,-58.54,-25.2)" d="M29.5,33.0 A29.5,33.5 0 1,1 29.5,100.0 A29.5,33.5 0 1,1 29.5,33.0 M59,33.0 L59,100" vector-effect="non-scaling-stroke"/><path transform="matrix(0.23,0,0,0.25,-36.31,-25.2)" d="M16,0.00 L16,84.69 C16,95.21 21,100.00 31,100.00 L40,100.00 M0,33.00 L38,33.00" vector-effect="non-scaling-stroke"/><path transform="matrix(0.27,0,0,0.25,-19.24,-25.2)" d="M0,33.0 L0,100" vector-effect="non-scaling-stroke"/><path transform="matrix(0.23,0,0,0.25,-10.57,-25.2)" d="M16,0.00 L16,84.69 C16,95.21 21,100.00 31,100.00 L40,100.00 M0,33.00 L38,33.00" vector-effect="non-scaling-stroke"/><path transform="matrix(0.24,0,0,0.25,6.78,-25.2)" d="M0,33.00 L0,76.07 C0,91.39 10,100.00 27.5,100.00 C45,100.00 55,91.39 55,76.07 M55,33.00 L55,100.00" vector-effect="non-scaling-stroke"/><path transform="matrix(0.24,0,0,0.25,29,-25.2)" d="M29.5,33.0 A29.5,33.5 0 1,1 29.5,100.0 A29.5,33.5 0 1,1 29.5,33.0 M59,0 L59,100" vector-effect="non-scaling-stroke"/><path transform="matrix(0.24,0,0,0.25,52.3,-25.2)" d="M0,65.54 L60,65.54 C60,46.40 48,33.00 30,33.00 C13,33.00 0,47.36 0,66.50 C0,85.64 13,100.00 30,100.00 C43,100.00 53,95.21 59,86.60" vector-effect="non-scaling-stroke"/><circle cx="-19.24" cy="-24.7" r="1.7" fill="#000" stroke="none"/></g>
<g transform="translate(681,2014.45)" fill="none" stroke="#000" stroke-width="1.9" stroke-linecap="butt" stroke-linejoin="round"><path transform="matrix(0.27,0,0,0.25,-66.94,-25.2)" d="M0,0 L0,100" vector-effect="non-scaling-stroke"/><path transform="matrix(0.24,0,0,0.25,-58.54,-25.2)" d="M29.5,33.0 A29.5,33.5 0 1,1 29.5,100.0 A29.5,33.5 0 1,1 29.5,33.0 M59,33.0 L59,100" vector-effect="non-scaling-stroke"/><path transform="matrix(0.23,0,0,0.25,-36.31,-25.2)" d="M16,0.00 L16,84.69 C16,95.21 21,100.00 31,100.00 L40,100.00 M0,33.00 L38,33.00" vector-effect="non-scaling-stroke"/><path transform="matrix(0.27,0,0,0.25,-19.24,-25.2)" d="M0,33.0 L0,100" vector-effect="non-scaling-stroke"/><path transform="matrix(0.23,0,0,0.25,-10.57,-25.2)" d="M16,0.00 L16,84.69 C16,95.21 21,100.00 31,100.00 L40,100.00 M0,33.00 L38,33.00" vector-effect="non-scaling-stroke"/><path transform="matrix(0.24,0,0,0.25,6.78,-25.2)" d="M0,33.00 L0,76.07 C0,91.39 10,100.00 27.5,100.00 C45,100.00 55,91.39 55,76.07 M55,33.00 L55,100.00" vector-effect="non-scaling-stroke"/><path transform="matrix(0.24,0,0,0.25,29,-25.2)" d="M29.5,33.0 A29.5,33.5 0 1,1 29.5,100.0 A29.5,33.5 0 1,1 29.5,33.0 M59,0 L59,100" vector-effect="non-scaling-stroke"/><path transform="matrix(0.24,0,0,0.25,52.3,-25.2)" d="M0,65.54 L60,65.54 C60,46.40 48,33.00 30,33.00 C13,33.00 0,47.36 0,66.50 C0,85.64 13,100.00 30,100.00 C43,100.00 53,95.21 59,86.60" vector-effect="non-scaling-stroke"/><circle cx="-19.24" cy="-24.7" r="1.7" fill="#000" stroke="none"/></g>
<g transform="translate(681,47.65)" fill="none" stroke="#000" stroke-width="1.9" stroke-linecap="butt" stroke-linejoin="round"><path transform="matrix(0.34,0,0,0.32,-36.72,-32.1)" d="M47,0 L47,74 C47,91 37,100 24,100 C10,100 0,90 0,66" vector-effect="non-scaling-stroke"/><path transform="matrix(0.34,0,0,0.32,-11.9,-32.1)" d="M47,0 L47,74 C47,91 37,100 24,100 C10,100 0,90 0,66" vector-effect="non-scaling-stroke"/><path transform="matrix(0.34,0,0,0.32,11.22,-32.1)" d="M0,100 L37.5,0 L75,100 M13,66 L62,66" vector-effect="non-scaling-stroke"/></g>
<g transform="translate(681,1052.85)" fill="none" stroke="#000" stroke-width="1.9" stroke-linecap="butt" stroke-linejoin="round"><path transform="matrix(0.3,0,0,0.32,-436.42,-32.1)" d="M58,44.49 C53,36.83 44,33.00 32,33.00 C14,33.00 0,47.36 0,66.50 C0,85.64 14,100.00 32,100.00 C44,100.00 53,96.17 58,88.51" vector-effect="non-scaling-stroke"/><path transform="matrix(0.31,0,0,0.32,-409.22,-32.1)" d="M29.5,33.0 A29.5,33.5 0 1,1 29.5,100.0 A29.5,33.5 0 1,1 29.5,33.0 M59,33.0 L59,100" vector-effect="non-scaling-stroke"/><path transform="matrix(0.32,0,0,0.32,-378.28,-32.1)" d="M0,33.00 L0,100.00 M0,54.06 C3,40.66 13,33.00 26.5,33.00 C44,33.00 53,42.57 53,56.93 L53,100.00 M53,54.06 C56,40.66 66,33.00 79.5,33.00 C97,33.00 106,42.57 106,56.93 L106,100.00" vector-effect="non-scaling-stroke"/><path transform="matrix(0.34,0,0,0.32,-337.82,-32.1)" d="M65.8,0 L17.7,0 L15.3,42.7 C22,36 30,32.5 41,32.5 C60,32.5 74.7,47 74.7,66.5 C74.7,86 60,100 41,100 C26,100 15,93 10.4,80" vector-effect="non-scaling-stroke"/><path transform="matrix(0.34,0,0,0.32,-291.92,-32.1)" d="M65.8,0 L17.7,0 L15.3,42.7 C22,36 30,32.5 41,32.5 C60,32.5 74.7,47 74.7,66.5 C74.7,86 60,100 41,100 C26,100 15,93 10.4,80" vector-effect="non-scaling-stroke"/><path transform="matrix(0.31,0,0,0.32,-256.22,-32.1)" d="M0,116 L71,116" vector-effect="non-scaling-stroke"/><path transform="matrix(0.3,0,0,0.32,-224.94,-32.1)" d="M54,42.57 C50,36.83 42,33.00 29,33.00 C13,33.00 4,39.70 4,49.27 C4,58.84 13,62.67 29,65.54 C46,68.41 56,73.20 56,82.77 C56,93.30 45,100.00 29,100.00 C15,100.00 5,95.21 0,88.51" vector-effect="non-scaling-stroke"/><path transform="matrix(0.3,0,0,0.32,-198.42,-32.1)" d="M58,44.49 C53,36.83 44,33.00 32,33.00 C14,33.00 0,47.36 0,66.50 C0,85.64 14,100.00 32,100.00 C44,100.00 53,96.17 58,88.51" vector-effect="non-scaling-stroke"/><path transform="matrix(0.31,0,0,0.32,-171.22,-32.1)" d="M29.5,33.0 A29.5,33.5 0 1,1 29.5,100.0 A29.5,33.5 0 1,1 29.5,33.0 M59,33.0 L59,100" vector-effect="non-scaling-stroke"/><path transform="matrix(0.3,0,0,0.32,-143.34,-32.1)" d="M0,33.00 L29,100.00 L58,33.00" vector-effect="non-scaling-stroke"/><path transform="matrix(0.31,0,0,0.32,-117.5,-32.1)" d="M0,65.54 L60,65.54 C60,46.40 48,33.00 30,33.00 C13,33.00 0,47.36 0,66.50 C0,85.64 13,100.00 30,100.00 C43,100.00 53,95.21 59,86.60" vector-effect="non-scaling-stroke"/><path transform="matrix(0.3,0,0,0.32,-87.92,-32.1)" d="M0,33.00 L0,100.00 M0,54.06 C3,40.66 13,33.00 27,33.00 C44,33.00 54,42.57 54,56.93 L54,100.00" vector-effect="non-scaling-stroke"/><path transform="matrix(0.31,0,0,0.32,-60.38,-32.1)" d="M29.5,33.0 A29.5,33.5 0 1,1 29.5,100.0 A29.5,33.5 0 1,1 29.5,33.0 M59,33.0 L59,110 C59,126 48,134 32,134 C20,134 10,130 5,123" vector-effect="non-scaling-stroke"/><path transform="matrix(0.34,0,0,0.32,-29.78,-32.1)" d="M0,33.0 L0,100" vector-effect="non-scaling-stroke"/><path transform="matrix(0.3,0,0,0.32,-15.84,-32.1)" d="M0,33.00 L0,100.00 M0,54.06 C3,40.66 13,33.00 27,33.00 C44,33.00 54,42.57 54,56.93 L54,100.00" vector-effect="non-scaling-stroke"/><path transform="matrix(0.31,0,0,0.32,11.7,-32.1)" d="M29.5,33.0 A29.5,33.5 0 1,1 29.5,100.0 A29.5,33.5 0 1,1 29.5,33.0 M59,33.0 L59,110 C59,126 48,134 32,134 C20,134 10,130 5,123" vector-effect="non-scaling-stroke"/><path transform="matrix(0.34,0,0,0.32,68.65,-32.1)" d="M0,57 L80,57" vector-effect="non-scaling-stroke"/><path transform="matrix(0.31,0,0,0.32,132.4,-32.1)" d="M72,22 C66,8 53,0 38,0 C15,0 0,20 0,50 C0,80 15,100 38,100 C53,100 66,92 72,78" vector-effect="non-scaling-stroke"/><path transform="matrix(0.31,0,0,0.32,166.4,-32.1)" d="M63,0 L0,0 L0,100 L63,100 M0,46 L40,46" vector-effect="non-scaling-stroke"/><path transform="matrix(0.31,0,0,0.32,195.64,-32.1)" d="M0,100 L0,0 L40,0 C58,0 68,10 68,24 C68,39 58,48 40,48 L0,48 M32,48 L66,100" vector-effect="non-scaling-stroke"/><path transform="matrix(0.31,0,0,0.32,227.6,-32.1)" d="M63,0 L0,0 L0,100 L63,100 M0,46 L40,46" vector-effect="non-scaling-stroke"/><path transform="matrix(0.31,0,0,0.32,255,-32.1)" d="M66,18 C62,7 50,0 34,0 C16,0 3,9 3,24 C3,38 14,44 34,49 C56,54 68,62 68,76 C68,91 54,100 34,100 C17,100 5,93 0,82" vector-effect="non-scaling-stroke"/><path transform="matrix(0.34,0,0,0.32,287.84,-32.1)" d="M0,57 L80,57" vector-effect="non-scaling-stroke"/><path transform="matrix(0.31,0,0,0.32,327.96,-32.1)" d="M63,0 L0,0 L0,100 L63,100 M0,46 L40,46" vector-effect="non-scaling-stroke"/><path transform="matrix(0.31,0,0,0.32,357.2,-32.1)" d="M0,100 L0,0 L42,0 C58,0 66,10 66,23 C66,37 56,46 42,46 L0,46 M42,46 C59,46 68,57 68,73 C68,90 58,100 42,100 L0,100" vector-effect="non-scaling-stroke"/><path transform="matrix(0.34,0,0,0.32,384.06,-32.1)" d="M0,100 L37.5,0 L75,100 M13,66 L62,66" vector-effect="non-scaling-stroke"/><path transform="matrix(0.31,0,0,0.32,417.72,-32.1)" d="M61,0 L0,0 L0,100 M0,46 L37,46" vector-effect="non-scaling-stroke"/><circle cx="-299.91" cy="-1.28" r="2.1" fill="#000" stroke="none"/><circle cx="-29.78" cy="-31.46" r="1.7" fill="#000" stroke="none"/></g>
<g transform="translate(152.4,489.35) rotate(-90)" fill="none" stroke="#000" stroke-width="1.9" stroke-linecap="butt" stroke-linejoin="round"><path transform="matrix(0.25,0,0,0.26,-271.71,-26.1)" d="M0,0 L67,0 M33.5,0 L33.5,100" vector-effect="non-scaling-stroke"/><path transform="matrix(0.25,0,0,0.26,-249.53,-26.1)" d="M39,0 A39,50 0 1,1 39,100 A39,50 0 1,1 39,0" vector-effect="non-scaling-stroke"/><path transform="matrix(0.27,0,0,0.26,-225.46,-26.1)" d="M0,100 L37.5,0 L75,100 M13,66 L62,66" vector-effect="non-scaling-stroke"/><path transform="matrix(0.24,0,0,0.26,-178.52,-26.1)" d="M0,33.00 L0,76.07 C0,91.39 10,100.00 27.5,100.00 C45,100.00 55,91.39 55,76.07 M55,33.00 L55,100.00" vector-effect="non-scaling-stroke"/><path transform="matrix(0.24,0,0,0.26,-154.99,-26.1)" d="M0,33.0 L0,131 M28,33.0 A28,33.5 0 1,1 28,100.0 A28,33.5 0 1,1 28,33.0" vector-effect="non-scaling-stroke"/><path transform="matrix(0.25,0,0,0.26,-133.62,-26.1)" d="M0,33.00 L19.25,100.00 L38.5,33.00 L57.75,100.00 L77,33.00" vector-effect="non-scaling-stroke"/><path transform="matrix(0.24,0,0,0.26,-106.57,-26.1)" d="M29.5,33.0 A29.5,33.5 0 1,1 29.5,100.0 A29.5,33.5 0 1,1 29.5,33.0 M59,33.0 L59,100" vector-effect="non-scaling-stroke"/><path transform="matrix(0.23,0,0,0.26,-81.69,-26.1)" d="M0,33.00 L0,100.00 M0,57.89 C4,41.61 14,33.00 30,33.00 L40,33.00" vector-effect="non-scaling-stroke"/><path transform="matrix(0.24,0,0,0.26,-66.81,-26.1)" d="M29.5,33.0 A29.5,33.5 0 1,1 29.5,100.0 A29.5,33.5 0 1,1 29.5,33.0 M59,0 L59,100" vector-effect="non-scaling-stroke"/><path transform="matrix(0.24,0,0,0.26,-22.04,-26.1)" d="M0,0 L0,100 L57,100" vector-effect="non-scaling-stroke"/><path transform="matrix(0.25,0,0,0.26,-3.11,-26.1)" d="M0,0 L23.5,100 L47,0 L70.5,100 L94,0" vector-effect="non-scaling-stroke"/><path transform="matrix(0.23,0,0,0.26,45.72,-26.1)" d="M39,3.30 C36,1.10 33,0.00 28,0.00 C17,0.00 12,6.60 12,19.80 L12,100.00 M0,33.00 L36,33.00" vector-effect="non-scaling-stroke"/><path transform="matrix(0.27,0,0,0.26,63.03,-26.1)" d="M0,0 L0,100" vector-effect="non-scaling-stroke"/><path transform="matrix(0.24,0,0,0.26,72.77,-26.1)" d="M0,33.00 L0,76.07 C0,91.39 10,100.00 27.5,100.00 C45,100.00 55,91.39 55,76.07 M55,33.00 L55,100.00" vector-effect="non-scaling-stroke"/><path transform="matrix(0.24,0,0,0.26,95.22,-26.1)" d="M0,33.00 L54,100.00 M54,33.00 L0,100.00" vector-effect="non-scaling-stroke"/><path transform="matrix(0.23,0,0,0.26,136.47,-26.1)" d="M36,-19 A100,100 0 0,0 36,131" vector-effect="non-scaling-stroke"/><path transform="matrix(0.25,0,0,0.26,151.35,-26.1)" d="M0,0 L23.5,100 L47,0 L70.5,100 L94,0" vector-effect="non-scaling-stroke"/><path transform="matrix(0.25,0,0,0.26,181.38,-26.1)" d="M0,131 L85,-17" vector-effect="non-scaling-stroke"/><path transform="matrix(0.26,0,0,0.26,211.13,-26.1)" d="M0,33.00 L0,100.00 M0,54.06 C3,40.66 13,33.00 26.5,33.00 C44,33.00 53,42.57 53,56.93 L53,100.00 M53,54.06 C56,40.66 66,33.00 79.5,33.00 C97,33.00 106,42.57 106,56.93 L106,100.00" vector-effect="non-scaling-stroke"/><path transform="matrix(0.18,0,0,0.17,243.32,-33.15)" d="M12.5,25 C14,10 25,0 40.5,0 C57,0 69,12 69,28 C69,40 63,47 55,55 L10,100 L73.5,100" vector-effect="non-scaling-stroke"/><path transform="matrix(0.23,0,0,0.26,263.6,-26.1)" d="M0,-19 A100,100 0 0,1 0,131" vector-effect="non-scaling-stroke"/></g>
<g transform="translate(146.4,1499.05) rotate(-90)" fill="none" stroke="#000" stroke-width="1.9" stroke-linecap="butt" stroke-linejoin="round"><path transform="matrix(0.25,0,0,0.26,-271.71,-26.4)" d="M0,0 L67,0 M33.5,0 L33.5,100" vector-effect="non-scaling-stroke"/><path transform="matrix(0.25,0,0,0.26,-249.53,-26.4)" d="M39,0 A39,50 0 1,1 39,100 A39,50 0 1,1 39,0" vector-effect="non-scaling-stroke"/><path transform="matrix(0.27,0,0,0.26,-225.46,-26.4)" d="M0,100 L37.5,0 L75,100 M13,66 L62,66" vector-effect="non-scaling-stroke"/><path transform="matrix(0.24,0,0,0.26,-178.52,-26.4)" d="M0,33.00 L0,76.07 C0,91.39 10,100.00 27.5,100.00 C45,100.00 55,91.39 55,76.07 M55,33.00 L55,100.00" vector-effect="non-scaling-stroke"/><path transform="matrix(0.24,0,0,0.26,-154.99,-26.4)" d="M0,33.0 L0,131 M28,33.0 A28,33.5 0 1,1 28,100.0 A28,33.5 0 1,1 28,33.0" vector-effect="non-scaling-stroke"/><path transform="matrix(0.25,0,0,0.26,-133.62,-26.4)" d="M0,33.00 L19.25,100.00 L38.5,33.00 L57.75,100.00 L77,33.00" vector-effect="non-scaling-stroke"/><path transform="matrix(0.24,0,0,0.26,-106.57,-26.4)" d="M29.5,33.0 A29.5,33.5 0 1,1 29.5,100.0 A29.5,33.5 0 1,1 29.5,33.0 M59,33.0 L59,100" vector-effect="non-scaling-stroke"/><path transform="matrix(0.23,0,0,0.26,-81.69,-26.4)" d="M0,33.00 L0,100.00 M0,57.89 C4,41.61 14,33.00 30,33.00 L40,33.00" vector-effect="non-scaling-stroke"/><path transform="matrix(0.24,0,0,0.26,-66.81,-26.4)" d="M29.5,33.0 A29.5,33.5 0 1,1 29.5,100.0 A29.5,33.5 0 1,1 29.5,33.0 M59,0 L59,100" vector-effect="non-scaling-stroke"/><path transform="matrix(0.24,0,0,0.26,-22.04,-26.4)" d="M0,0 L0,100 L57,100" vector-effect="non-scaling-stroke"/><path transform="matrix(0.25,0,0,0.26,-3.11,-26.4)" d="M0,0 L23.5,100 L47,0 L70.5,100 L94,0" vector-effect="non-scaling-stroke"/><path transform="matrix(0.23,0,0,0.26,45.72,-26.4)" d="M39,3.30 C36,1.10 33,0.00 28,0.00 C17,0.00 12,6.60 12,19.80 L12,100.00 M0,33.00 L36,33.00" vector-effect="non-scaling-stroke"/><path transform="matrix(0.27,0,0,0.26,63.03,-26.4)" d="M0,0 L0,100" vector-effect="non-scaling-stroke"/><path transform="matrix(0.24,0,0,0.26,72.77,-26.4)" d="M0,33.00 L0,76.07 C0,91.39 10,100.00 27.5,100.00 C45,100.00 55,91.39 55,76.07 M55,33.00 L55,100.00" vector-effect="non-scaling-stroke"/><path transform="matrix(0.24,0,0,0.26,95.22,-26.4)" d="M0,33.00 L54,100.00 M54,33.00 L0,100.00" vector-effect="non-scaling-stroke"/><path transform="matrix(0.23,0,0,0.26,136.47,-26.4)" d="M36,-19 A100,100 0 0,0 36,131" vector-effect="non-scaling-stroke"/><path transform="matrix(0.25,0,0,0.26,151.35,-26.4)" d="M0,0 L23.5,100 L47,0 L70.5,100 L94,0" vector-effect="non-scaling-stroke"/><path transform="matrix(0.25,0,0,0.26,181.38,-26.4)" d="M0,131 L85,-17" vector-effect="non-scaling-stroke"/><path transform="matrix(0.26,0,0,0.26,211.13,-26.4)" d="M0,33.00 L0,100.00 M0,54.06 C3,40.66 13,33.00 26.5,33.00 C44,33.00 53,42.57 53,56.93 L53,100.00 M53,54.06 C56,40.66 66,33.00 79.5,33.00 C97,33.00 106,42.57 106,56.93 L106,100.00" vector-effect="non-scaling-stroke"/><path transform="matrix(0.18,0,0,0.18,243.32,-33.53)" d="M12.5,25 C14,10 25,0 40.5,0 C57,0 69,12 69,28 C69,40 63,47 55,55 L10,100 L73.5,100" vector-effect="non-scaling-stroke"/><path transform="matrix(0.23,0,0,0.26,263.6,-26.4)" d="M0,-19 A100,100 0 0,1 0,131" vector-effect="non-scaling-stroke"/></g>
<rect x="1120" y="738" width="477.3" height="129.8" fill="none" stroke="#000" stroke-width="1.9" stroke-linejoin="round"/>
<path d="M1125,773.5 H1213.4" stroke="#ff0000" stroke-width="3.2" stroke-linecap="round" stroke-dasharray="15.8 8.3"/>
<path d="M1125,832 H1213.4" stroke="#000" stroke-width="3.2" stroke-linecap="round"/>
<g transform="translate(1212.72,786.55)" fill="none" stroke="#000" stroke-width="1.9" stroke-linecap="butt" stroke-linejoin="round"><path transform="matrix(0.25,0,0,0.26,3.79,-25.5)" d="M72,22 C66,8 53,0 38,0 C15,0 0,20 0,50 C0,80 15,100 38,100 C53,100 66,92 72,78" vector-effect="non-scaling-stroke"/><path transform="matrix(0.25,0,0,0.26,30.89,-25.5)" d="M63,0 L0,0 L0,100 L63,100 M0,46 L40,46" vector-effect="non-scaling-stroke"/><path transform="matrix(0.25,0,0,0.26,54.2,-25.5)" d="M0,100 L0,0 L40,0 C58,0 68,10 68,24 C68,39 58,48 40,48 L0,48 M32,48 L66,100" vector-effect="non-scaling-stroke"/><path transform="matrix(0.25,0,0,0.26,79.67,-25.5)" d="M63,0 L0,0 L0,100 L63,100 M0,46 L40,46" vector-effect="non-scaling-stroke"/><path transform="matrix(0.25,0,0,0.26,101.52,-25.5)" d="M66,18 C62,7 50,0 34,0 C16,0 3,9 3,24 C3,38 14,44 34,49 C56,54 68,62 68,76 C68,91 54,100 34,100 C17,100 5,93 0,82" vector-effect="non-scaling-stroke"/><path transform="matrix(0.27,0,0,0.26,127.7,-25.5)" d="M0,57 L80,57" vector-effect="non-scaling-stroke"/><path transform="matrix(0.25,0,0,0.26,159.67,-25.5)" d="M63,0 L0,0 L0,100 L63,100 M0,46 L40,46" vector-effect="non-scaling-stroke"/><path transform="matrix(0.25,0,0,0.26,182.98,-25.5)" d="M0,100 L0,0 L42,0 C58,0 66,10 66,23 C66,37 56,46 42,46 L0,46 M42,46 C59,46 68,57 68,73 C68,90 58,100 42,100 L0,100" vector-effect="non-scaling-stroke"/><path transform="matrix(0.27,0,0,0.26,204.39,-25.5)" d="M0,100 L37.5,0 L75,100 M13,66 L62,66" vector-effect="non-scaling-stroke"/><path transform="matrix(0.24,0,0,0.26,231.22,-25.5)" d="M61,0 L0,0 L0,100 M0,46 L37,46" vector-effect="non-scaling-stroke"/></g>
<g transform="translate(1212.72,841.45)" fill="none" stroke="#000" stroke-width="1.9" stroke-linecap="butt" stroke-linejoin="round"><path transform="matrix(0.24,0,0,0.26,3.79,-25.5)" d="M58,44.49 C53,36.83 44,33.00 32,33.00 C14,33.00 0,47.36 0,66.50 C0,85.64 14,100.00 32,100.00 C44,100.00 53,96.17 58,88.51" vector-effect="non-scaling-stroke"/><path transform="matrix(0.24,0,0,0.26,25.47,-25.5)" d="M29.5,33.0 A29.5,33.5 0 1,1 29.5,100.0 A29.5,33.5 0 1,1 29.5,33.0 M59,33.0 L59,100" vector-effect="non-scaling-stroke"/><path transform="matrix(0.26,0,0,0.26,50.14,-25.5)" d="M0,33.00 L0,100.00 M0,54.06 C3,40.66 13,33.00 26.5,33.00 C44,33.00 53,42.57 53,56.93 L53,100.00 M53,54.06 C56,40.66 66,33.00 79.5,33.00 C97,33.00 106,42.57 106,56.93 L106,100.00" vector-effect="non-scaling-stroke"/><path transform="matrix(0.27,0,0,0.26,82.38,-25.5)" d="M65.8,0 L17.7,0 L15.3,42.7 C22,36 30,32.5 41,32.5 C60,32.5 74.7,47 74.7,66.5 C74.7,86 60,100 41,100 C26,100 15,93 10.4,80" vector-effect="non-scaling-stroke"/><path transform="matrix(0.27,0,0,0.26,118.97,-25.5)" d="M65.8,0 L17.7,0 L15.3,42.7 C22,36 30,32.5 41,32.5 C60,32.5 74.7,47 74.7,66.5 C74.7,86 60,100 41,100 C26,100 15,93 10.4,80" vector-effect="non-scaling-stroke"/><path transform="matrix(0.25,0,0,0.26,147.42,-25.5)" d="M0,116 L71,116" vector-effect="non-scaling-stroke"/><path transform="matrix(0.24,0,0,0.26,172.36,-25.5)" d="M54,42.57 C50,36.83 42,33.00 29,33.00 C13,33.00 4,39.70 4,49.27 C4,58.84 13,62.67 29,65.54 C46,68.41 56,73.20 56,82.77 C56,93.30 45,100.00 29,100.00 C15,100.00 5,95.21 0,88.51" vector-effect="non-scaling-stroke"/><path transform="matrix(0.24,0,0,0.26,193.49,-25.5)" d="M58,44.49 C53,36.83 44,33.00 32,33.00 C14,33.00 0,47.36 0,66.50 C0,85.64 14,100.00 32,100.00 C44,100.00 53,96.17 58,88.51" vector-effect="non-scaling-stroke"/><path transform="matrix(0.24,0,0,0.26,215.17,-25.5)" d="M29.5,33.0 A29.5,33.5 0 1,1 29.5,100.0 A29.5,33.5 0 1,1 29.5,33.0 M59,33.0 L59,100" vector-effect="non-scaling-stroke"/><path transform="matrix(0.24,0,0,0.26,237.4,-25.5)" d="M0,33.00 L29,100.00 L58,33.00" vector-effect="non-scaling-stroke"/><path transform="matrix(0.24,0,0,0.26,257.99,-25.5)" d="M0,65.54 L60,65.54 C60,46.40 48,33.00 30,33.00 C13,33.00 0,47.36 0,66.50 C0,85.64 13,100.00 30,100.00 C43,100.00 53,95.21 59,86.60" vector-effect="non-scaling-stroke"/><path transform="matrix(0.24,0,0,0.26,281.57,-25.5)" d="M0,33.00 L0,100.00 M0,54.06 C3,40.66 13,33.00 27,33.00 C44,33.00 54,42.57 54,56.93 L54,100.00" vector-effect="non-scaling-stroke"/><path transform="matrix(0.24,0,0,0.26,303.52,-25.5)" d="M29.5,33.0 A29.5,33.5 0 1,1 29.5,100.0 A29.5,33.5 0 1,1 29.5,33.0 M59,33.0 L59,110 C59,126 48,134 32,134 C20,134 10,130 5,123" vector-effect="non-scaling-stroke"/><path transform="matrix(0.27,0,0,0.26,327.91,-25.5)" d="M0,33.0 L0,100" vector-effect="non-scaling-stroke"/><path transform="matrix(0.24,0,0,0.26,339.02,-25.5)" d="M0,33.00 L0,100.00 M0,54.06 C3,40.66 13,33.00 27,33.00 C44,33.00 54,42.57 54,56.93 L54,100.00" vector-effect="non-scaling-stroke"/><path transform="matrix(0.24,0,0,0.26,360.97,-25.5)" d="M29.5,33.0 A29.5,33.5 0 1,1 29.5,100.0 A29.5,33.5 0 1,1 29.5,33.0 M59,33.0 L59,110 C59,126 48,134 32,134 C20,134 10,130 5,123" vector-effect="non-scaling-stroke"/><circle cx="112.6" cy="-1.02" r="2.1" fill="#000" stroke="none"/><circle cx="327.91" cy="-24.99" r="1.7" fill="#000" stroke="none"/></g>
</svg></body></html>
